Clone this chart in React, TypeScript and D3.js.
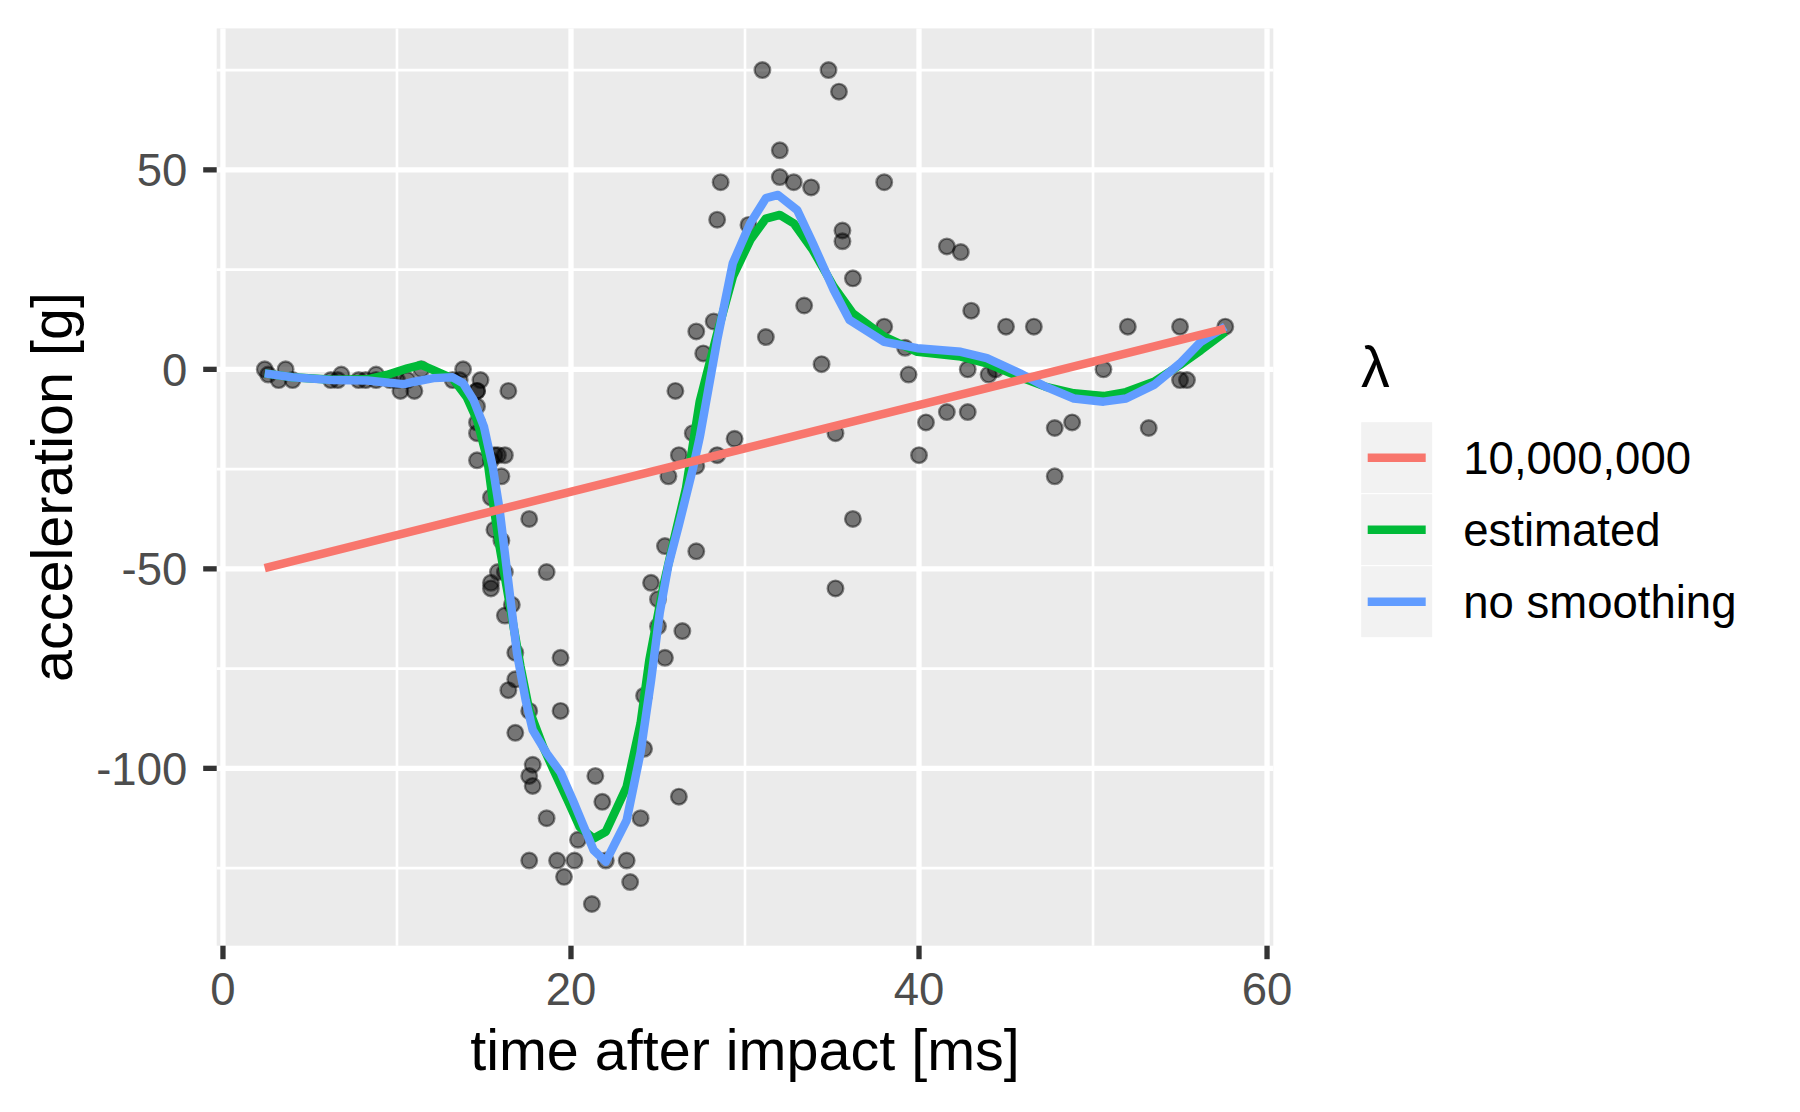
import React from "react";
import * as d3 from "d3";

// mcycle data: time after impact [ms], acceleration [g]
const times = [2.4, 2.6, 3.2, 3.6, 4.0, 6.2, 6.6, 6.8, 7.8, 8.2, 8.8, 8.8, 9.6, 10.0, 10.2, 10.6, 11.0, 11.4, 13.2, 13.6, 13.8, 14.6, 14.6, 14.6, 14.6, 14.6, 14.6, 14.8, 15.4, 15.4, 15.4, 15.4, 15.6, 15.6, 15.8, 15.8, 16.0, 16.0, 16.2, 16.2, 16.2, 16.4, 16.4, 16.6, 16.8, 16.8, 16.8, 17.6, 17.6, 17.6, 17.6, 17.8, 17.8, 18.6, 18.6, 19.2, 19.4, 19.4, 19.6, 20.2, 20.4, 21.2, 21.4, 21.8, 22.0, 23.2, 23.4, 24.0, 24.2, 24.2, 24.6, 25.0, 25.0, 25.4, 25.4, 25.6, 26.0, 26.2, 26.2, 26.4, 27.0, 27.2, 27.2, 27.2, 27.6, 28.2, 28.4, 28.4, 28.6, 29.4, 30.2, 31.0, 31.2, 32.0, 32.0, 32.8, 33.4, 33.8, 34.4, 34.8, 35.2, 35.2, 35.4, 35.6, 35.6, 36.2, 36.2, 38.0, 38.0, 39.2, 39.4, 40.0, 40.4, 41.6, 41.6, 42.4, 42.8, 42.8, 43.0, 44.0, 44.4, 45.0, 46.6, 47.8, 47.8, 48.8, 50.6, 52.0, 53.2, 55.0, 55.0, 55.4, 57.6];
const accel = [0.0, -1.3, -2.7, 0.0, -2.7, -2.7, -2.7, -1.3, -2.7, -2.7, -1.3, -2.7, -2.7, -2.7, -5.4, -2.7, -5.4, 0.0, -2.7, -2.7, 0.0, -13.3, -5.4, -5.4, -9.3, -16.0, -22.8, -2.7, -22.8, -32.1, -53.5, -54.9, -40.2, -21.5, -21.5, -50.8, -42.9, -26.8, -21.5, -50.8, -61.7, -5.4, -80.4, -59.0, -71.0, -91.1, -77.7, -37.5, -85.6, -123.1, -101.9, -99.1, -104.4, -112.5, -50.8, -123.1, -85.6, -72.3, -127.2, -123.1, -117.9, -134.0, -101.9, -108.4, -123.1, -123.1, -128.5, -112.5, -95.1, -81.8, -53.5, -64.4, -57.6, -72.3, -44.3, -26.8, -5.4, -107.1, -21.5, -65.6, -16.0, -45.6, -24.2, 9.5, 4.0, 12.0, -21.5, 37.5, 46.9, -17.4, 36.2, 75.0, 8.1, 54.9, 48.2, 46.9, 16.0, 45.6, 1.3, 75.0, -16.0, -54.9, 69.6, 34.8, 32.1, -37.5, 22.8, 46.9, 10.7, 5.4, -1.3, -21.5, -13.3, 30.8, -10.7, 29.4, 0.0, -10.7, 14.7, -1.3, 0.0, 10.7, 10.7, -26.8, -14.7, -13.3, 0.0, 10.7, -14.7, -2.7, 10.7, -2.7, 10.7];

// fitted curves
const redT = [2.4, 57.6];
const redA = [-49.8, 10.2];

const greenT = [2.4, 4.0, 6.3, 8.3, 9.4, 10.6, 11.4, 12.1, 13.2, 14.0, 14.6, 15.2, 15.5, 15.9, 16.3, 16.7, 17.1, 17.6, 18.4, 19.0, 19.8, 20.5, 21.3, 22.0, 23.2, 24.0, 24.5, 25.3, 25.9, 26.6, 27.4, 28.4, 29.3, 30.3, 31.2, 32.0, 32.8, 33.9, 35.1, 36.2, 38.0, 39.9, 42.4, 43.9, 45.8, 47.3, 48.9, 50.6, 51.9, 53.5, 55.0, 56.2, 57.6];
const greenA = [-1.0, -2.0, -2.6, -2.5, -1.4, 0.25, 1.1, -0.2, -2.3, -6.9, -12.7, -22.7, -32.7, -44.5, -54.5, -64.5, -74.5, -85.4, -94.6, -100.4, -107.9, -114.7, -117.6, -115.9, -104.6, -88.7, -72.9, -54.5, -43.0, -30.0, -8.0, 9.0, 23.2, 32.4, 37.8, 38.7, 36.6, 29.9, 20.7, 14.0, 8.2, 4.4, 3.2, 1.5, -1.9, -4.4, -6.0, -6.7, -5.7, -3.1, 1.1, 4.8, 9.4];

const blueT = [2.4, 4.0, 6.3, 8.3, 9.4, 10.4, 11.0, 12.1, 13.2, 13.8, 14.4, 15.0, 15.5, 15.9, 16.2, 16.5, 16.9, 17.4, 17.8, 18.6, 19.4, 20.1, 21.3, 22.0, 23.2, 24.0, 24.6, 25.1, 25.6, 26.2, 27.0, 27.4, 28.4, 29.3, 30.3, 31.2, 31.9, 33.0, 33.9, 35.1, 36.0, 38.0, 39.9, 42.4, 43.9, 45.8, 47.3, 48.9, 50.6, 51.9, 53.5, 55.0, 56.2, 57.6];
const blueA = [-1.0, -2.0, -2.7, -2.8, -3.3, -3.7, -3.1, -2.2, -2.0, -3.5, -7.7, -14.4, -24.4, -35.3, -46.1, -57.0, -71.2, -83.0, -90.4, -96.2, -101.0, -107.9, -120.5, -123.4, -113.0, -96.0, -78.0, -61.0, -49.0, -39.0, -25.0, -17.0, 7.3, 26.6, 36.6, 42.9, 43.7, 39.9, 31.6, 19.9, 12.4, 6.9, 5.3, 4.4, 2.8, -1.0, -4.4, -7.3, -8.1, -7.3, -3.9, 1.5, 6.9, 10.7];

const xMajor = [0, 20, 40, 60];
const xMinor = [10, 30, 50];
const yMajor = [-100, -50, 0, 50];
const yMinor = [-125, -75, -25, 25, 75];

const legendLabels = ["10,000,000", "estimated", "no smoothing"];
const legendColors = ["#F8766D", "#00BA38", "#619CFF"];

const FONT = "'Liberation Sans', Arial, Helvetica, sans-serif";

export default function App() {
  const L = 216.7, R = 1273.3, T = 28.4, B = 945.7;
  const x = d3.scaleLinear().domain([-0.36, 60.36]).range([L, R]);
  const y = d3.scaleLinear().domain([-144.45, 85.45]).range([B, T]);

  const line = d3
    .line<[number, number]>()
    .x((d) => x(d[0]))
    .y((d) => y(d[1]));

  const mk = (ts: number[], as: number[]) => ts.map((t, i) => [t, as[i]] as [number, number]);

  const lineW = 8.5;
  const tickFs = 45.5;
  const titleFs = 57.5;

  const legX = 1360.7, legY = 421.7, keyW = 72, keyH = 72;

  return (
    <svg
      width={1800}
      height={1112}
      style={{ position: "absolute", left: 0, top: 0, background: "#fff" }}
      fontFamily={FONT}
    >
      <rect x={0} y={0} width={1800} height={1112} fill="#fff" />
      <rect x={L} y={T} width={R - L} height={B - T} fill="#EBEBEB" />
      {/* minor grid */}
      {xMinor.map((v) => (
        <line key={"xm" + v} x1={x(v)} x2={x(v)} y1={T} y2={B} stroke="#fff" strokeWidth={2.65} />
      ))}
      {yMinor.map((v) => (
        <line key={"ym" + v} x1={L} x2={R} y1={y(v)} y2={y(v)} stroke="#fff" strokeWidth={2.65} />
      ))}
      {/* major grid */}
      {xMajor.map((v) => (
        <line key={"xM" + v} x1={x(v)} x2={x(v)} y1={T} y2={B} stroke="#fff" strokeWidth={5.3} />
      ))}
      {yMajor.map((v) => (
        <line key={"yM" + v} x1={L} x2={R} y1={y(v)} y2={y(v)} stroke="#fff" strokeWidth={5.3} />
      ))}

      {/* points */}
      {times.map((t, i) => (
        <circle
          key={"p" + i}
          cx={x(t)}
          cy={y(accel[i])}
          r={7.8}
          fill="#000"
          fillOpacity={0.5}
          stroke="#000"
          strokeOpacity={0.45}
          strokeWidth={2.4}
        />
      ))}

      {/* lines */}
      <path d={line(mk(greenT, greenA)) || ""} fill="none" stroke={legendColors[1]} strokeWidth={lineW} strokeLinejoin="round" />
      <path d={line(mk(blueT, blueA)) || ""} fill="none" stroke={legendColors[2]} strokeWidth={lineW} strokeLinejoin="round" />
      <path d={line(mk(redT, redA)) || ""} fill="none" stroke={legendColors[0]} strokeWidth={lineW} />

      {/* y axis */}
      {yMajor.map((v) => (
        <g key={"yt" + v}>
          <line x1={L - 13.5} x2={L} y1={y(v)} y2={y(v)} stroke="#333333" strokeWidth={5.3} />
          <text
            x={L - 29.4}
            y={y(v) + tickFs * 0.358}
            textAnchor="end"
            fontSize={tickFs}
            fill="#4D4D4D"
          >
            {v}
          </text>
        </g>
      ))}
      {/* x axis */}
      {xMajor.map((v) => (
        <g key={"xt" + v}>
          <line x1={x(v)} x2={x(v)} y1={B} y2={B + 13.5} stroke="#333333" strokeWidth={5.3} />
          <text x={x(v)} y={1005.3} textAnchor="middle" fontSize={tickFs} fill="#4D4D4D">
            {v}
          </text>
        </g>
      ))}

      {/* axis titles */}
      <text x={(L + R) / 2} y={1070} textAnchor="middle" fontSize={titleFs} fill="#000">
        time after impact [ms]
      </text>
      <text
        transform={`translate(72, ${(T + B) / 2}) rotate(-90)`}
        textAnchor="middle"
        fontSize={titleFs}
        fill="#000"
      >
        acceleration [g]
      </text>

      {/* legend */}
      <text x={1361} y={386.7} fontSize={titleFs} fill="#000">
        λ
      </text>
      {legendLabels.map((lab, i) => {
        const ky = legY + i * keyH;
        return (
          <g key={"lg" + i}>
            <rect x={legX} y={ky} width={keyW} height={keyH} fill="#F2F2F2" stroke="#fff" strokeWidth={1} />
            <line
              x1={legX + 7}
              x2={legX + keyW - 7}
              y1={ky + keyH / 2}
              y2={ky + keyH / 2}
              stroke={legendColors[i]}
              strokeWidth={lineW}
            />
            <text x={1463.3} y={ky + keyH / 2 + tickFs * 0.358} fontSize={tickFs} fill="#000">
              {lab}
            </text>
          </g>
        );
      })}
    </svg>
  );
}
